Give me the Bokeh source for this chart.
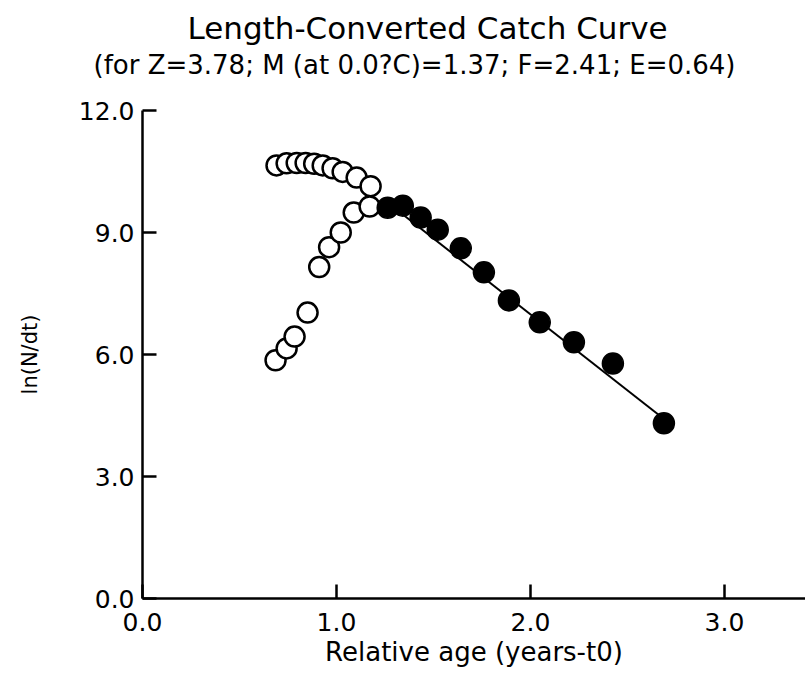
from bokeh.plotting import figure
from bokeh.models import Title, FixedTicker, NumeralTickFormatter, Range1d
from bokeh.embed import file_html
from bokeh.resources import INLINE

# ---- data ----
age_open_upper = [0.691, 0.743, 0.795, 0.841, 0.885, 0.929, 0.980, 1.032, 1.104, 1.176]
lnn_open_upper = [10.65, 10.70, 10.71, 10.71, 10.69, 10.65, 10.58, 10.49, 10.35, 10.14]
age_open_lower = [0.686, 0.743, 0.784, 0.851, 0.911, 0.962, 1.022, 1.089, 1.171]
lnn_open_lower = [5.86, 6.15, 6.44, 7.03, 8.15, 8.64, 9.00, 9.49, 9.64]
age_used = [1.264, 1.342, 1.434, 1.522, 1.641, 1.760, 1.889, 2.048, 2.224, 2.425, 2.688]
lnn_used = [9.61, 9.66, 9.37, 9.07, 8.61, 8.02, 7.33, 6.79, 6.30, 5.78, 4.31]
fit_age = [1.26, 2.70]
fit_lnn = [9.75, 4.37]
x_ticks = [0, 1, 2, 3]
y_ticks = [0, 3, 6, 9, 12]

title_text = "Length-Converted Catch Curve"
subtitle_text = "(for Z=3.78; M (at 0.0?C)=1.37; F=2.41; E=0.64)"
x_label = "Relative age (years-t0)"
y_label = "ln(N/dt)"

FONT = "DejaVu Sans"

p = figure(width=805, height=675,
           x_range=Range1d(0, 3.418), y_range=Range1d(0, 12),
           output_backend="svg", toolbar_location=None,
           title=title_text,
           min_border_left=142, min_border_right=0,
           min_border_top=110, min_border_bottom=77)

p.title.text_font = FONT
p.title.text_font_size = "31px"
p.title.text_font_style = "normal"
p.title.text_color = "black"
p.title.align = "left"
p.title.offset = 45
p.title.standoff = -59

sub = Title(text=subtitle_text, text_font=FONT, text_font_size="26px",
            text_font_style="normal", text_color="black", align="left",
            offset=-49, standoff=62)
p.add_layout(sub, "above")

p.background_fill_color = "white"
p.border_fill_color = "white"
p.outline_line_color = None
p.xgrid.visible = False
p.ygrid.visible = False

for ax, ticks in ((p.xaxis, x_ticks), (p.yaxis, y_ticks)):
    ax.ticker = FixedTicker(ticks=ticks)
    ax.formatter = NumeralTickFormatter(format="0.0")
    ax.major_tick_in = 14
    ax.major_tick_out = 0
    ax.minor_tick_in = 0
    ax.minor_tick_out = 0
    ax.axis_line_width = 2.5
    ax.axis_line_color = "black"
    ax.major_tick_line_width = 2.5
    ax.major_tick_line_color = "black"
    ax.major_label_text_font = FONT
    ax.major_label_text_font_size = "25px"
    ax.major_label_text_color = "black"
    ax.axis_label_text_font = FONT
    ax.axis_label_text_font_style = "normal"
    ax.axis_label_text_color = "black"

p.xaxis.axis_label = x_label
p.xaxis.axis_label_text_font_size = "26px"
p.xaxis.major_label_standoff = 14
p.xaxis.axis_label_standoff = 3

p.yaxis.axis_label = y_label
p.yaxis.axis_label_text_font_size = "21px"
p.yaxis.major_label_standoff = 8
p.yaxis.axis_label_standoff = 34

# open circles (points not used in the regression)
p.scatter(age_open_upper, lnn_open_upper, marker="circle", size=20,
          fill_color="white", line_color="black", line_width=2.5)
p.scatter(age_open_lower, lnn_open_lower, marker="circle", size=20,
          fill_color="white", line_color="black", line_width=2.5)

# regression line
p.line(fit_age, fit_lnn, line_color="black", line_width=2)

# filled circles (points used in the regression)
p.scatter(age_used, lnn_used, marker="circle", size=21,
          fill_color="black", line_color="black", line_width=1.5)

open("out.html", "w").write(file_html(p, INLINE))
